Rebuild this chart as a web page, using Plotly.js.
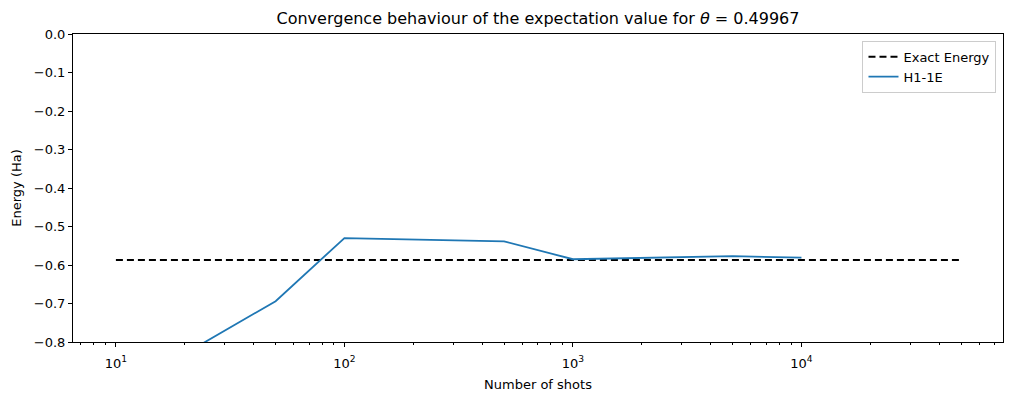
<!DOCTYPE html>
<html>
<head>
<meta charset="utf-8">
<script src="https://cdn.plot.ly/plotly-3.0.1.min.js"></script>
<style>html,body{margin:0;padding:0;background:#fff;}#chart{width:1012px;height:400px;}</style>
</head>
<body>
<div id="chart"></div>
<script>
const exactShots = [10, 50000];
const exactEnergy = [-0.587, -0.587];
const shots = [10, 50, 100, 500, 1000, 5000, 10000];
const h1Energy = [-0.934, -0.694, -0.530, -0.5385, -0.585, -0.577, -0.581];
const xTickVals = [10, 100, 1000, 10000];
const xTickText = ['10<sup>1</sup>', '10<sup>2</sup>', '10<sup>3</sup>', '10<sup>4</sup>'];

const font = {family: 'DejaVu Sans, sans-serif', color: '#000'};
const traces = [
  {x: exactShots, y: exactEnergy, name: 'Exact Energy', mode: 'lines',
   line: {color: '#000', dash: '7px,4px', width: 1.8}},
  {x: shots, y: h1Energy, name: 'H1-1E', mode: 'lines',
   line: {color: '#1f77b4', width: 1.8}}
];
const layout = {
  width: 1012, height: 400,
  margin: {l: 73, r: 9, t: 34, b: 58},
  paper_bgcolor: '#fff', plot_bgcolor: '#fff',
  font: Object.assign({size: 13}, font),
  title: {text: 'Convergence behaviour of the expectation value for <i>θ</i> = 0.49967',
          font: Object.assign({size: 16}, font), x: 0.5, xanchor: 'center', y: 0.955, yanchor: 'middle', xref: 'paper'},
  xaxis: {type: 'log', range: [Math.log10(6.49), Math.log10(76200)],
          tickvals: xTickVals, ticktext: xTickText,
          ticks: 'outside', ticklen: 4, tickcolor: '#000', tickwidth: 1,
          ticklabelstandoff: 5,
          showline: true, linecolor: '#000', linewidth: 1, mirror: true,
          showgrid: false, zeroline: false,
          minor: {ticks: 'outside', ticklen: 2, tickcolor: '#000', showgrid: false,
                  tickvals: [7,8,9,20,30,40,50,60,70,80,90,200,300,400,500,600,700,800,900,2000,3000,4000,5000,6000,7000,8000,9000,20000,30000,40000,50000,60000,70000]},
          title: {text: 'Number of shots', font: Object.assign({size: 13}, font), standoff: 10},
          tickfont: Object.assign({size: 13}, font)},
  yaxis: {range: [-0.8, 0], dtick: 0.1, tick0: 0, tickformat: '.1f',
          ticks: 'outside', ticklen: 4, tickcolor: '#000', tickwidth: 1,
          showline: true, linecolor: '#000', linewidth: 1, mirror: true,
          showgrid: false, zeroline: false,
          title: {text: 'Energy (Ha)', font: Object.assign({size: 13}, font), standoff: 9},
          tickfont: Object.assign({size: 13}, font)},
  legend: {x: 0.993, y: 0.978, xanchor: 'right', yanchor: 'top',
           bgcolor: 'rgba(255,255,255,0.8)', bordercolor: '#ccc', borderwidth: 1,
           font: Object.assign({size: 13}, font)},
  showlegend: true
};
Plotly.newPlot('chart', traces, layout, {displayModeBar: false, staticPlot: true});
</script>
</body>
</html>
